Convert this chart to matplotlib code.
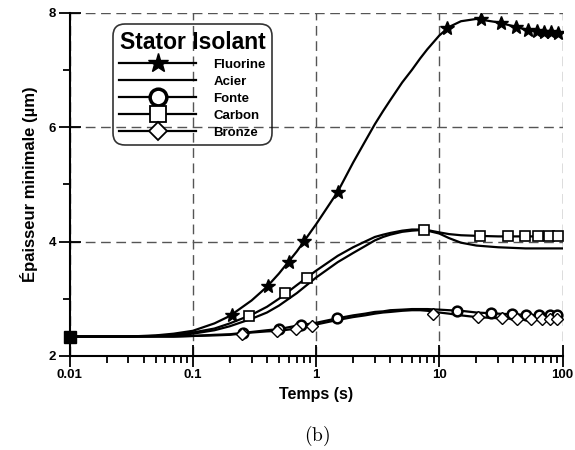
import matplotlib
matplotlib.use('Agg')
import matplotlib.pyplot as plt
from matplotlib.lines import Line2D

plt.rcParams['font.family'] = ['Liberation Sans', 'DejaVu Sans']
plt.rcParams['font.weight'] = 'bold'
plt.rcParams['mathtext.fontset'] = 'cm'

# Time samples (s) for the curves
t = [0.01, 0.03, 0.05, 0.07, 0.1, 0.15, 0.2, 0.3, 0.4, 0.5, 0.7, 1.0, 1.5,
     2, 2.5, 3, 3.5, 4, 5, 6, 7, 8, 10, 12, 15, 20, 30, 50, 70, 100]

# Minimum film thickness (um) for each insulating stator material
fluorine = [2.34, 2.34, 2.36, 2.39, 2.44, 2.57, 2.70, 2.97, 3.21, 3.44, 3.83, 4.30, 4.87,
            5.38, 5.75, 6.05, 6.28, 6.47, 6.78, 7.00, 7.20, 7.36, 7.60, 7.75, 7.85,
            7.89, 7.83, 7.71, 7.66, 7.64]
acier = [2.34, 2.34, 2.35, 2.36, 2.39, 2.45, 2.52, 2.65, 2.76, 2.88, 3.10, 3.37, 3.64,
         3.80, 3.92, 4.02, 4.08, 4.12, 4.17, 4.19, 4.20, 4.19, 4.14, 4.06, 3.98,
         3.93, 3.90, 3.88, 3.88, 3.88]
fonte = [2.34, 2.34, 2.34, 2.34, 2.35, 2.37, 2.38, 2.42, 2.45, 2.47, 2.53, 2.58, 2.66,
         2.71, 2.74, 2.77, 2.78, 2.80, 2.81, 2.82, 2.82, 2.82, 2.81, 2.80, 2.79,
         2.76, 2.74, 2.72, 2.71, 2.71]
carbon = [2.34, 2.34, 2.35, 2.37, 2.41, 2.48, 2.57, 2.72, 2.86, 3.00, 3.24, 3.49, 3.75,
          3.90, 4.00, 4.08, 4.12, 4.15, 4.19, 4.21, 4.21, 4.20, 4.16, 4.13, 4.11,
          4.10, 4.09, 4.09, 4.09, 4.09]
bronze = [2.34, 2.34, 2.34, 2.34, 2.35, 2.36, 2.37, 2.41, 2.43, 2.44, 2.48, 2.55, 2.63,
          2.68, 2.71, 2.74, 2.76, 2.77, 2.79, 2.80, 2.80, 2.79, 2.76, 2.74, 2.71,
          2.68, 2.66, 2.65, 2.65, 2.65]

# Marker positions along each curve
fluorine_mt = [0.208, 0.407, 0.603, 0.80, 1.51, 11.5, 21.7, 31.6, 41.6, 52, 61.6, 70.5, 80, 91.6]
fluorine_my = [2.72, 3.22, 3.64, 4.01, 4.87, 7.74, 7.89, 7.82, 7.75, 7.70, 7.68, 7.66, 7.66, 7.65]
fonte_mt = [0.254, 0.503, 0.755, 1.49, 14.0, 26.5, 39, 51, 64.2, 78.9, 91]
fonte_my = [2.40, 2.47, 2.54, 2.66, 2.79, 2.75, 2.73, 2.72, 2.72, 2.71, 2.71]
carbon_mt = [0.287, 0.563, 0.839, 7.54, 21.6, 35.8, 49.5, 63.4, 77.4, 92.1]
carbon_my = [2.70, 3.10, 3.37, 4.20, 4.10, 4.09, 4.09, 4.09, 4.09, 4.09]
bronze_mt = [0.249, 0.485, 0.687, 0.92, 8.93, 20.5, 32, 43, 55, 67.6, 78.9, 91]
bronze_my = [2.38, 2.44, 2.47, 2.53, 2.73, 2.68, 2.66, 2.65, 2.65, 2.65, 2.65, 2.65]

start_t = [0.01]
start_y = [2.34]

x_ticks = [0.01, 0.1, 1, 10, 100]
x_labels = ['0.01', '0.1', '1', '10', '100']
y_ticks = [2, 4, 6, 8]
y_minor = [3, 5, 7]

fig = plt.figure(figsize=(5.75, 4.5), dpi=100)
ax = fig.add_axes([0.1209, 0.2089, 0.8574, 0.763])

lw = 1.6
for ys in (fluorine, acier, fonte, carbon, bronze):
    ax.plot(t, ys, color='black', lw=lw, zorder=3)

ax.plot(fluorine_mt, fluorine_my, ls='none', marker='*', ms=10, color='black', zorder=4)
ax.plot(fonte_mt, fonte_my, ls='none', marker='o', ms=7, mfc='white', mec='black', mew=1.8, zorder=4)
ax.plot(carbon_mt, carbon_my, ls='none', marker='s', ms=7.5, mfc='white', mec='black', mew=1.2, zorder=4)
ax.plot(bronze_mt, bronze_my, ls='none', marker='D', ms=6, mfc='white', mec='black', mew=1.0, zorder=4)
ax.plot(start_t, start_y, ls='none', marker='s', ms=8, color='black', zorder=5, clip_on=False)

ax.set_xscale('log')
ax.set_xlim(0.01, 100)
ax.set_ylim(2, 8)
ax.set_xticks(x_ticks, x_labels)
ax.set_yticks(y_ticks)
ax.set_yticks(y_minor, minor=True)

ax.grid(True, which='major', linestyle=(0, (7, 4)), color='#555555', lw=1.0)
for side in ('top', 'right'):
    ax.spines[side].set_visible(False)
for side in ('left', 'bottom'):
    ax.spines[side].set_linewidth(1.5)

ax.tick_params(which='major', direction='inout', length=16, width=1.3,
               labelsize=9.5, pad=1.5)
ax.tick_params(which='minor', direction='out', length=5, width=1.3)
ax.tick_params(axis='x', which='minor', labelbottom=False)

ax.set_xlabel('Temps (s)', fontsize=11.5, fontweight='bold', labelpad=4)
ax.set_ylabel('Épaisseur minimale (µm)', fontsize=12, fontweight='bold', labelpad=8)

handles = [
    Line2D([], [], color='black', lw=lw, marker='*', ms=15),
    Line2D([], [], color='black', lw=lw),
    Line2D([], [], color='black', lw=lw, marker='o', ms=12, mfc='white', mew=2.5),
    Line2D([], [], color='black', lw=lw, marker='s', ms=12, mfc='white', mew=1.3),
    Line2D([], [], color='black', lw=lw, marker='D', ms=9, mfc='white', mew=1.3),
]
labels = ['Fluorine', 'Acier', 'Fonte', 'Carbon', 'Bronze']
leg = ax.legend(handles, labels, title='Stator Isolant', loc='upper left',
                bbox_to_anchor=(0.088, 0.967), frameon=True, fancybox=True,
                facecolor='none', edgecolor='black', framealpha=None,
                prop={'weight': 'bold', 'size': 9.5}, handlelength=5.8,
                handletextpad=1.3, labelspacing=0.36, borderpad=0.5,
                borderaxespad=0)
leg.get_title().set_fontsize(16.5)
leg.get_title().set_fontweight('bold')
leg.get_frame().set_linewidth(1.2)
leg.get_frame().set_boxstyle('round,pad=0,rounding_size=0.9')

fig.text(0.551, 0.031, r'$\mathrm{(b)}$', fontsize=14, ha='center', va='center')

fig.savefig('out.png', dpi=100)
